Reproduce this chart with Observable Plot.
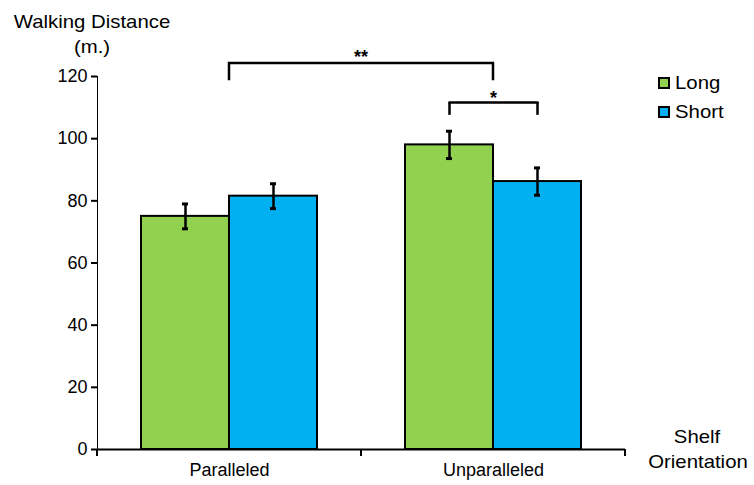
<!DOCTYPE html>
<html>
<head>
<meta charset="utf-8">
<script src="https://cdn.jsdelivr.net/npm/d3@7"></script>
<script src="https://cdn.jsdelivr.net/npm/@observablehq/plot@0.6"></script>
<style>
  html, body { margin: 0; padding: 0; background: #fff; }
  #wrap { position: relative; width: 754px; height: 485px; font-family: "Liberation Sans", Arial, sans-serif; color: #000; overflow: hidden; }
  #wrap svg { position: absolute; left: 0; top: 0; }
  .lbl { position: absolute; font-size: 18.5px; line-height: 1; white-space: nowrap; transform: translate(-50%, -50%) scaleX(1.1); }
  .leg { position: absolute; font-size: 18.5px; line-height: 1; white-space: nowrap; transform: translateY(-50%) scaleX(1.1); transform-origin: left center; }
  .sw { position: absolute; width: 12px; height: 12px; box-sizing: border-box; border: 2px solid #000; transform: translateY(-50%); }
  #wrap svg g[aria-label^="y-axis"] path, #wrap svg g[aria-label^="y-axis"] line { stroke-width: 2px; stroke: #000; }
</style>
</head>
<body>
<div id="wrap"></div>
<script>
// ---- data ----
const categories = ["Paralleled", "Unparalleled"];
const seriesNames = ["Long", "Short"];
const longValues = [75.0, 98.0];
const shortValues = [81.5, 86.2];
const longErrors = [4.0, 4.4];
const shortErrors = [4.0, 4.4];
const yTicks = [0, 20, 40, 60, 80, 100, 120];
const colors = ["#92D050", "#00B0F0"];
// significance brackets: [between categories, within Unparalleled]
const sigLabels = ["**", "*"];
const sigTop = [124.2, 111.6];
const sigBottom = [118.6, 107.5];
const sigTextY = [127.4, 114.5];
const yTitle = ["Walking Distance", "(m.)"];
const xTitle = ["Shelf", "Orientation"];

const table = categories.flatMap((c, i) => [
  {category: c, series: seriesNames[0], value: longValues[i], err: longErrors[i]},
  {category: c, series: seriesNames[1], value: shortValues[i], err: shortErrors[i]}
]);

const inUnpar = d => d.category === categories[1];

let facetCall = 0;
function extras(index, scales, values, dims) {
  const x = scales.x, y = scales.y;
  let r = (x && typeof x.range === "function") ? x.range() : [dims.marginLeft, dims.width - dims.marginRight];
  const x0 = Math.min(r[0], r[1]), x1 = Math.max(r[0], r[1]);
  const y0 = y(0);
  const g = d3.create("svg:g").attr("fill", "none").attr("stroke", "#000");
  for (const xx of [x0, x1]) {
    g.append("line").attr("x1", xx).attr("x2", xx).attr("y1", y0).attr("y2", y0 + 7).attr("stroke-width", 2);
  }
  if (facetCall++ === 0) {
    const xa = (x0 + x1) / 2, xb = xa + (x1 - x0);
    const yt = y(sigTop[0]), yb = y(sigBottom[0]);
    g.append("path").attr("d", `M${xa},${yb}V${yt}H${xb}V${yb}`).attr("stroke-width", 2.5);
    g.append("text").attr("x", (xa + xb) / 2).attr("y", y(sigTextY[0])).attr("dy", "0.57em")
      .attr("text-anchor", "middle").attr("fill", "#000").attr("stroke", "none")
      .attr("font-weight", "bold").attr("font-size", 18).text(sigLabels[0]);
  }
  return g.node();
}

const chart = Plot.plot({
  width: 754,
  height: 485,
  marginLeft: 96,
  marginRight: 129,
  marginTop: 76,
  marginBottom: 36,
  style: {fontFamily: "Liberation Sans, Arial, sans-serif", fontSize: "18px", color: "#000", background: "transparent", overflow: "visible"},
  facet: {data: table, x: "category"},
  fx: {domain: categories, padding: 0, axis: "bottom", label: null, tickSize: 0, tickPadding: 14},
  x: {domain: seriesNames, paddingInner: 0, paddingOuter: 0.5, axis: null},
  y: {domain: [0, 120], ticks: yTicks, tickSize: 6, tickPadding: 4, line: true, label: null},
  color: {domain: seriesNames, range: colors},
  marks: [
    Plot.barY(table, {x: "series", y: "value", fill: "series", stroke: "#000", strokeWidth: 2}),
    Plot.ruleX(table, {x: "series", y1: d => d.value - d.err, y2: d => d.value + d.err, stroke: "#000", strokeWidth: 2.5}),
    Plot.tickY(table, {x: "series", y: d => d.value - d.err, insetLeft: 41, insetRight: 41, stroke: "#000", strokeWidth: 3}),
    Plot.tickY(table, {x: "series", y: d => d.value + d.err, insetLeft: 41, insetRight: 41, stroke: "#000", strokeWidth: 3}),
    Plot.ruleY([0], {stroke: "#000", strokeWidth: 2}),
    Plot.ruleX(table, {filter: inUnpar, x: "series", y1: () => sigBottom[1], y2: () => sigTop[1], stroke: "#000", strokeWidth: 2.5}),
    Plot.line(table, {filter: inUnpar, x: "series", y: () => sigTop[1], stroke: "#000", strokeWidth: 2.5}),
    Plot.text(table, {filter: d => inUnpar(d) && d.series === seriesNames[0], y: () => sigTextY[1], text: () => sigLabels[1], fontWeight: "bold", fontSize: 18, dy: 4.5, fill: "#000"}),
    extras
  ]
});

const wrap = document.getElementById("wrap");
wrap.appendChild(chart);

function addLabel(text, cx, cy) {
  const d = document.createElement("div");
  d.className = "lbl";
  d.textContent = text;
  d.style.left = cx + "px";
  d.style.top = cy + "px";
  wrap.appendChild(d);
}
addLabel(yTitle[0], 92, 22);
addLabel(yTitle[1], 92, 47);
addLabel(xTitle[0], 697, 437);
addLabel(xTitle[1], 698, 462);

seriesNames.forEach((s, i) => {
  const cy = 83 + i * 29;
  const sw = document.createElement("div");
  sw.className = "sw";
  sw.style.left = "658px";
  sw.style.top = cy + "px";
  sw.style.background = colors[i];
  wrap.appendChild(sw);
  const t = document.createElement("div");
  t.className = "leg";
  t.textContent = s;
  t.style.left = "675px";
  t.style.top = cy + "px";
  wrap.appendChild(t);
});
</script>
</body>
</html>
